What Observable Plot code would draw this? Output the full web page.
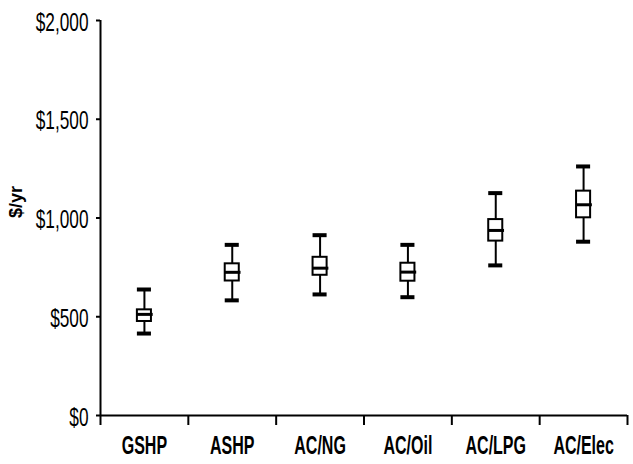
<!DOCTYPE html>
<html><head><meta charset="utf-8">
<script src="https://cdn.jsdelivr.net/npm/d3@7"></script>
<script src="https://cdn.jsdelivr.net/npm/@observablehq/plot@0.6"></script>
<style>body{margin:0;background:#fff;overflow:hidden} svg{display:block}</style>
</head><body><div id="chart"></div>
<script>
const categories = ["GSHP", "ASHP", "AC/NG", "AC/Oil", "AC/LPG", "AC/Elec"];
const minValues = [415, 583, 613, 599, 760, 880];
const q1Values = [476, 681, 710, 680, 883, 1001];
const medianValues = [512, 725, 746, 726, 937, 1067];
const q3Values = [535, 768, 801, 771, 992, 1136];
const maxValues = [638, 864, 913, 864, 1126, 1261];
const yTicks = [0, 500, 1000, 1500, 2000];

const data = categories.map((c, i) => ({
  cat: c, pos: i + 0.5,
  lo: minValues[i], q1: q1Values[i], med: medianValues[i], q3: q3Values[i], hi: maxValues[i]
}));

const font = "'Liberation Sans', Arial, sans-serif";
const hw = 0.08;

const chart = Plot.plot({
  width: 633, height: 464,
  marginLeft: 100, marginRight: 6, marginTop: 20, marginBottom: 49,
  style: {fontFamily: font, color: "#000", background: "#fff"},
  x: {type: "linear", domain: [0, categories.length]},
  y: {domain: [0, 2000]},
  marks: [
    Plot.axisY({ticks: yTicks, tickFormat: () => "", tickSize: 4, strokeWidth: 2, label: null}),
    Plot.axisY({ticks: yTicks, tickFormat: d => "$" + d3.format(",")(d), tickSize: 0, tickPadding: 12, fontSize: 25, dy: 2, label: null}),
    Plot.axisX({ticks: d3.range(0, categories.length + 1), tickFormat: () => "", tickSize: 10, strokeWidth: 2, label: null}),
    Plot.axisX({ticks: data.map(d => d.pos), tickFormat: (d) => categories[Math.round(d - 0.5)], tickSize: 0, tickPadding: 21, fontSize: 25, fontWeight: "bold", label: null}),
    Plot.ruleX([0], {strokeWidth: 2}),
    Plot.ruleY([0], {strokeWidth: 2}),
    Plot.text(["$/yr"], {frameAnchor: "left", dx: -84, rotate: -90, fontWeight: "bold", fontSize: 18}),
    Plot.ruleX(data, {x: "pos", y1: "lo", y2: "hi", strokeWidth: 2}),
    Plot.ruleY(data, {y: "hi", x1: d => d.pos - hw, x2: d => d.pos + hw, strokeWidth: 4}),
    Plot.ruleY(data, {y: "lo", x1: d => d.pos - hw, x2: d => d.pos + hw, strokeWidth: 4}),
    Plot.rect(data, {x1: d => d.pos - hw, x2: d => d.pos + hw, y1: "q1", y2: "q3", fill: "white", stroke: "black", strokeWidth: 2}),
    Plot.ruleY(data, {y: "med", x1: d => d.pos - hw, x2: d => d.pos + hw + 0.02, strokeWidth: 3})
  ]
});
document.getElementById("chart").appendChild(chart);

// condense tick label text horizontally (narrow typeface look)
function condense(selector, s) {
  chart.querySelectorAll(selector).forEach(t => {
    const b = t.getBBox();
    const anchor = t.getAttribute("text-anchor") || t.parentNode.getAttribute("text-anchor") || "middle";
    const ax = anchor === "end" ? b.x + b.width : anchor === "start" ? b.x : b.x + b.width / 2;
    const prev = t.getAttribute("transform") || "";
    t.setAttribute("transform", `${prev} translate(${ax},0) scale(${s},1) translate(${-ax},0)`);
  });
}
condense('g[aria-label="y-axis tick label"] text', 0.69);
condense('g[aria-label="x-axis tick label"] text', 0.64);
</script>
</body></html>
